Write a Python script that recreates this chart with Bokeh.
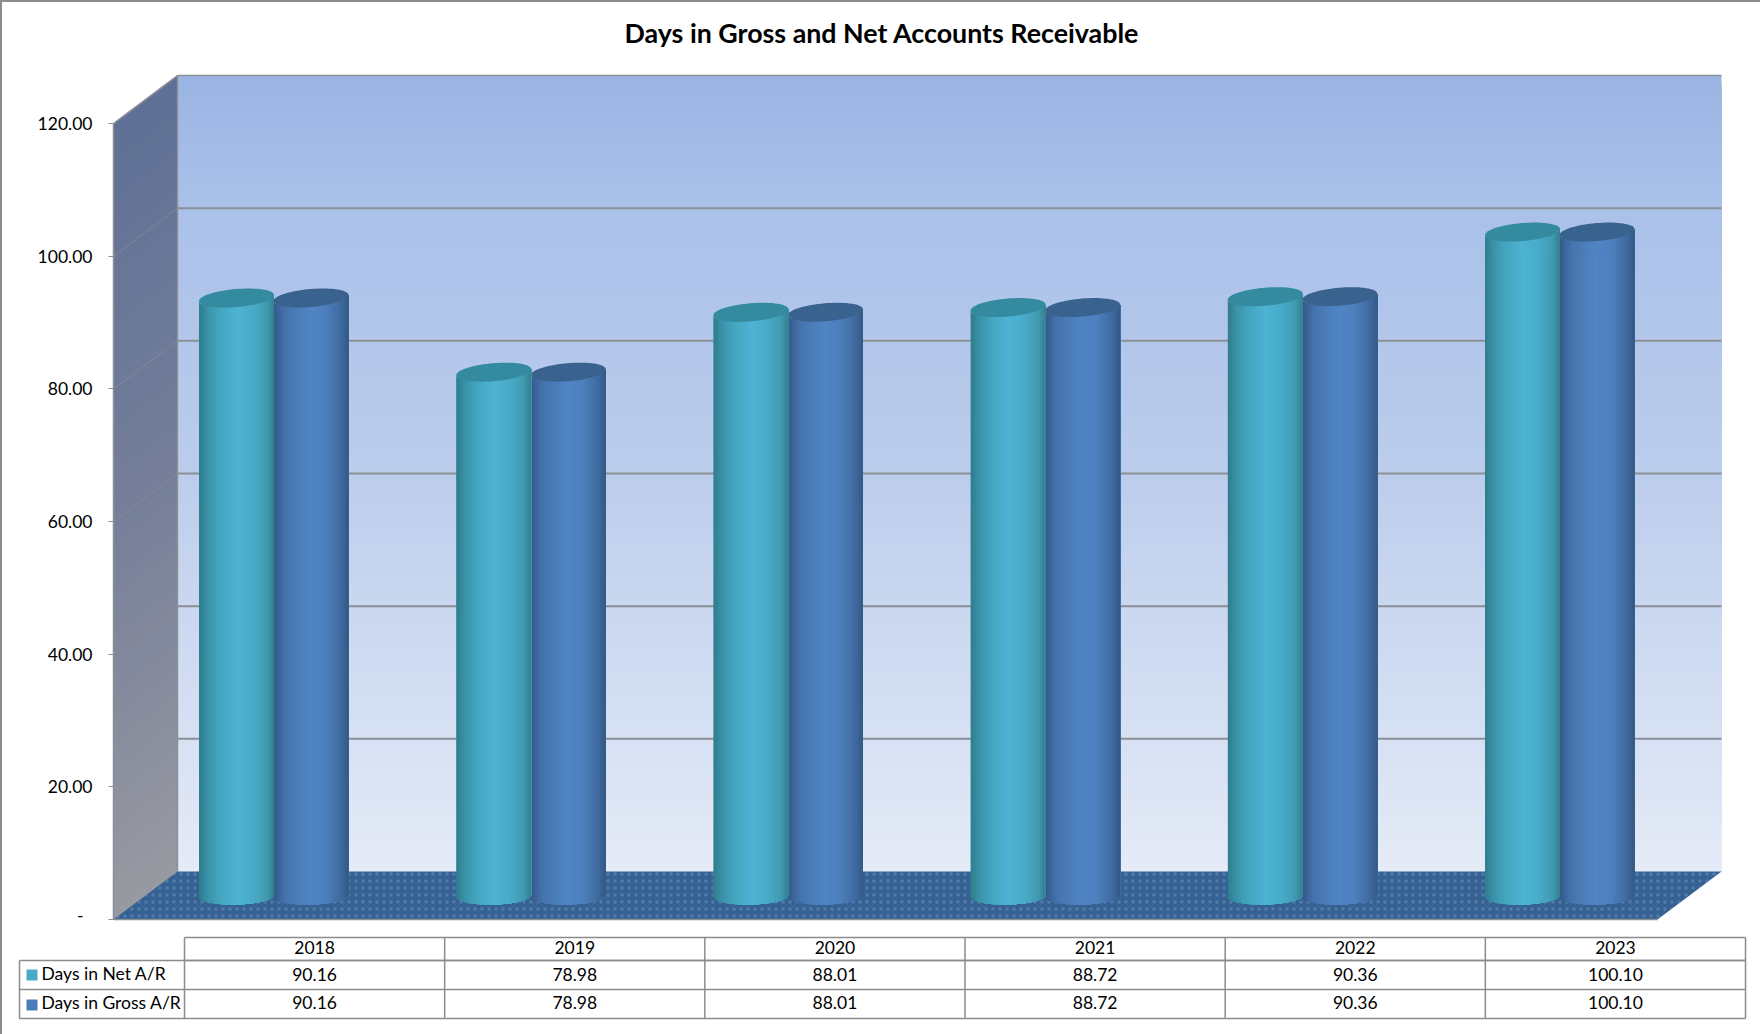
from bokeh.plotting import figure
from bokeh.layouts import column
from bokeh.models import Range1d, FixedTicker, NumeralTickFormatter
from bokeh.core.properties import value
from bokeh.embed import file_html
from bokeh.resources import INLINE
import numpy as np

# Chart data
years = ["2018", "2019", "2020", "2021", "2022", "2023"]
days_net = [90.16, 78.98, 88.01, 88.72, 90.36, 100.10]
days_gross = [90.16, 78.98, 88.01, 88.72, 90.36, 100.10]
series_names = ["Days in Net A/R", "Days in Gross A/R"]
tick_values = [0, 20, 40, 60, 80, 100, 120]
title_text = "Days in Gross and Net Accounts Receivable"

FONT = "Lato"
GRID = "#8b8f96"

# Page geometry
W, H = 1760, 1034
BORDER = 2
SPLIT = 925            # page row where the table panel begins
FRAME_L, FRAME_T = 113, 60
Y0_PX = 919            # page row of value 0 on the front plane
PX_PER = 6.633         # page pixels per axis unit

# 3D box projection, in axis units upward and pixels rightward
DX = 64
WALL_LIFT = 7.24
BAR_LIFT = 3.54
WALL_L, WALL_R = FRAME_L + DX, 1721
FRONT_R = WALL_R - DX
TOP = 120

# Cylinders: the cap is tilted more than the base
GROUP0 = 273
GROUP_STEP = 257.2
HALF_W = 37.5
CAP_TILT = 3.0 / PX_PER
CAP_MINOR = 9.0 / PX_PER
BASE_TILT = 1.0 / PX_PER
BASE_MINOR = 8.5 / PX_PER


def lerp_color(stops, t):
    xs = [s[0] for s in stops]
    rgb = [np.interp(t, xs, [int(s[1][i:i + 2], 16) for s in stops]) for i in (1, 3, 5)]
    return "#%02x%02x%02x" % tuple(int(round(c)) for c in rgb)


p = figure(
    width=W - BORDER, height=SPLIT - BORDER,
    x_range=Range1d(FRAME_L, W),
    y_range=Range1d(-(SPLIT - Y0_PX) / PX_PER, (Y0_PX - FRAME_T) / PX_PER),
    output_backend="svg", toolbar_location=None,
    min_border_left=FRAME_L - BORDER, min_border_right=0,
    min_border_top=FRAME_T - BORDER, min_border_bottom=0,
    title=title_text,
)
p.frame_align = False
p.outline_line_color = None
p.grid.visible = False
p.xaxis.visible = False
p.background_fill_color = "white"
p.border_fill_color = "white"

p.title.text_font = FONT
p.title.text_font_size = "26.8px"
p.title.text_font_style = "bold"
p.title.text_color = "black"
p.title.align = "left"
p.title.vertical_align = "top"
p.title.offset = 511
p.title.standoff = 20

ax = p.yaxis[0]
ax.ticker = FixedTicker(ticks=tick_values)
ax.formatter = NumeralTickFormatter(format="0.00")
ax.major_label_overrides = {0: "-\u00a0\u00a0"}
ax.bounds = (0, TOP)
ax.axis_line_color = GRID
ax.axis_line_width = 1.5
ax.major_tick_line_color = GRID
ax.major_tick_in = 0
ax.major_tick_out = 5
ax.minor_tick_line_color = None
ax.major_label_standoff = 16
ax.major_label_text_font = FONT
ax.major_label_text_font_size = "17.5px"
ax.major_label_text_color = "black"

# Back wall: bands painted top-down, each reaching to the floor so no gaps show
wall_stops = [(0, "#9ab4e3"), (0.15, "#a9c0e9"), (0.5, "#bccdec"), (1, "#e5ebf7")]
edges = np.linspace(0, TOP, 121)
for hi in edges[:0:-1]:
    c = lerp_color(wall_stops, 1 - (hi - 0.5) / TOP)
    p.quad(left=WALL_L, right=WALL_R, bottom=WALL_LIFT, top=hi + WALL_LIFT,
           fill_color=c, line_color=None)

# Left side wall, painted the same way
side_stops = [(0, "#5f7096"), (0.5, "#767f9a"), (1, "#989aa1")]
for hi in edges[:0:-1]:
    c = lerp_color(side_stops, 1 - (hi - 0.5) / TOP)
    p.patch([FRAME_L, WALL_L, WALL_L, FRAME_L],
            [0, WALL_LIFT, hi + WALL_LIFT, hi],
            fill_color=c, line_color=None)

# Gridlines on both walls
for v in tick_values[1:-1]:
    p.line([WALL_L, WALL_R], [v + WALL_LIFT] * 2, line_color=GRID, line_width=2)
    p.line([FRAME_L, WALL_L], [v, v + WALL_LIFT], line_color=GRID, line_width=1, line_alpha=0.7)

# Box edges
p.line([FRAME_L, WALL_L, WALL_R], [TOP, TOP + WALL_LIFT, TOP + WALL_LIFT], line_color=GRID, line_width=1.6)
p.line([WALL_L, WALL_L], [WALL_LIFT, TOP + WALL_LIFT], line_color=GRID, line_width=1.4)

# Floor
p.patch([FRAME_L, FRONT_R, WALL_R, WALL_L], [0, 0, WALL_LIFT, WALL_LIFT],
        fill_color="#356292", line_color=None,
        hatch_pattern="dot", hatch_color="#8db2de", hatch_alpha=0.3, hatch_scale=7, hatch_weight=1)
p.line([FRAME_L, FRONT_R], [0, 0], line_color=GRID, line_width=1.5)

net_ramp = [(0, "#2f7d8c"), (0.12, "#3a93a9"), (0.25, "#43a3bc"), (0.5, "#4db3d3"),
            (0.72, "#49abc8"), (0.9, "#3f9ab0"), (1, "#367f90")]
gross_ramp = [(0, "#34598a"), (0.15, "#4472ab"), (0.32, "#4b7db9"), (0.5, "#5084c6"),
              (0.7, "#4d7fbc"), (0.9, "#3f6a9f"), (1, "#335985")]
STRIPS = 40


def cylinder(center, val, ramp, cap_color):
    """Draw one upright cylinder whose top sits at the given axis value."""
    us = np.linspace(-1, 1, STRIPS + 1)
    # Left to right, every strip runs to the far edge and covers the previous one's end
    for k, u0 in enumerate(us[:-1]):
        theta = np.linspace(np.arccos(u0), 0, max(8, STRIPS - k + 2))
        seg, root = np.cos(theta), np.sin(theta)
        top = val + BAR_LIFT + CAP_TILT * seg - CAP_MINOR * root
        bot = BAR_LIFT + BASE_TILT * seg - BASE_MINOR * root
        c = lerp_color(ramp, (u0 + us[k + 1]) / 4 + 0.5)
        p.patch(list(center + HALF_W * seg) + list(center + HALF_W * seg[::-1]),
                list(top) + list(bot[::-1]), fill_color=c, line_color=None)
    t = np.linspace(0, 2 * np.pi, 72)
    p.patch(center + HALF_W * np.cos(t),
            val + BAR_LIFT + CAP_TILT * np.cos(t) + CAP_MINOR * np.sin(t),
            fill_color=cap_color, line_color=None)


for i in range(len(years)):
    center = GROUP0 + i * GROUP_STEP
    cylinder(center + 37.5, days_gross[i], gross_ramp, "#39628f")
    cylinder(center - 37.0, days_net[i], net_ramp, "#348a9e")

# Data table under the chart
t = figure(
    width=W - BORDER, height=H - SPLIT,
    x_range=Range1d(BORDER, W), y_range=Range1d(H, SPLIT),
    output_backend="svg", toolbar_location=None,
    min_border=0, min_border_left=0, min_border_right=0, min_border_top=0, min_border_bottom=0,
)
t.frame_align = False
t.axis.visible = False
t.grid.visible = False
t.outline_line_color = None
t.background_fill_color = "white"
t.border_fill_color = "white"

COLS = [184 + k * 260.17 for k in range(7)]
ROWS = [937, 960, 989, 1018]
LEG_L = 19
LINE = "#8c8c8c"

t.segment(x0=[COLS[0]] * 2, x1=[COLS[-1]] * 2, y0=ROWS[:2], y1=ROWS[:2], line_color=LINE, line_width=1.5)
t.segment(x0=[LEG_L] * 3, x1=[COLS[-1]] * 3, y0=ROWS[1:], y1=ROWS[1:], line_color=LINE, line_width=1.5)
t.segment(x0=COLS, x1=COLS, y0=[ROWS[0]] * 7, y1=[ROWS[-1]] * 7, line_color=LINE, line_width=1.5)
t.segment(x0=[LEG_L], x1=[LEG_L], y0=[ROWS[1]], y1=[ROWS[-1]], line_color=LINE, line_width=1.5)

centers = [(COLS[k] + COLS[k + 1]) / 2 for k in range(6)]
text_kw = dict(text_font=value(FONT), text_font_size="17.5px", text_color="black", text_baseline="middle")
t.text(centers, [947] * 6, text=years, text_align="center", **text_kw)
t.text(centers, [973.5] * 6, text=["%.2f" % v for v in days_net], text_align="center", **text_kw)
t.text(centers, [1002] * 6, text=["%.2f" % v for v in days_gross], text_align="center", **text_kw)
t.text([41, 41], [973, 1002], text=series_names, text_align="left", **text_kw)
t.quad(left=[26, 26], right=[37, 37], top=[969, 999], bottom=[980, 1010],
       fill_color=["#46aac8", "#4a7ebb"], line_color=None)

page = column(p, t, spacing=0, styles={
    "border-top": f"{BORDER}px solid #8c8c8c",
    "border-left": f"{BORDER}px solid #8c8c8c",
})

open("out.html", "w").write(file_html(page, INLINE))
